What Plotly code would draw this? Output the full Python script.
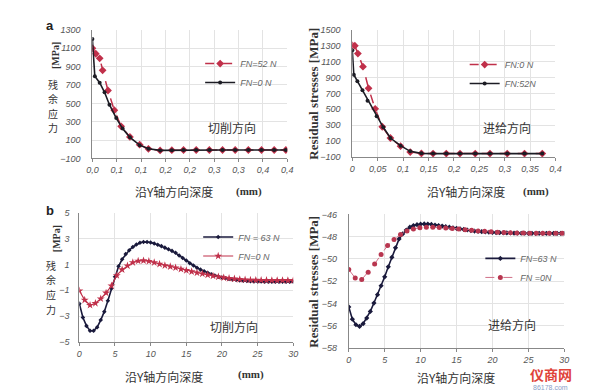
import plotly.graph_objects as go

W, H = 592, 390

# ---------------- data ----------------
# panel a (切削方向, depth mm)
a_x_fn0 = [0, 0.005, 0.015, 0.025, 0.035, 0.049, 0.062, 0.077, 0.097, 0.115, 0.139, 0.163,
           0.187, 0.213, 0.24, 0.267, 0.293, 0.32, 0.347, 0.373, 0.397]
a_y_fn0 = [1200, 795, 725, 620, 485, 340, 225, 130, 45, 5, -12, -10, -8, -8, -8, -8, -8, -8, -8, -8, -8]
a_x_fn52 = [0, 0.007, 0.015, 0.021, 0.032, 0.045, 0.059, 0.077, 0.097, 0.115, 0.139, 0.163,
            0.187, 0.213, 0.24, 0.267, 0.293, 0.32, 0.347, 0.373, 0.397]
a_y_fn52 = [1100, 1040, 990, 860, 640, 425, 250, 135, 50, 5, -12, -10, -8, -8, -8, -8, -8, -8, -8, -8, -8]
a_tickvals = [0, 0.05, 0.1, 0.15, 0.2, 0.25, 0.3, 0.35, 0.4]
a_ticktext = ["0,0", "0,1", "0,1", "0,2", "0,2", "0,3", "0,3", "0,4", "0,4"]
a_yticks = [-100, 100, 300, 500, 700, 900, 1100, 1300]

# panel b (进给方向, depth mm)
b_x_fn0 = [0, 0.005, 0.011, 0.021, 0.032, 0.045, 0.059, 0.075, 0.095, 0.114, 0.136, 0.159,
           0.185, 0.212, 0.242, 0.271, 0.305, 0.339, 0.374]
b_y_fn0 = [1304, 1300, 1201, 1037, 764, 506, 280, 138, 35, -39, -56, -58, -58, -58, -58, -58, -58, -58, -58]
b_x_fn52 = [0, 0.003, 0.010, 0.020, 0.030, 0.048, 0.061, 0.075, 0.095, 0.114, 0.136, 0.159,
            0.185, 0.212, 0.242, 0.271, 0.305, 0.339, 0.374]
b_y_fn52 = [1242, 935, 853, 740, 608, 412, 273, 138, 42, -30, -55, -58, -58, -58, -58, -58, -58, -58, -58]
b_tickvals = [0, 0.05, 0.1, 0.15, 0.2, 0.25, 0.3, 0.35, 0.4]
b_ticktext = ["0", "0,05", "0,1", "0,15", "0,2", "0,25", "0,3", "0,35", "0,4"]
b_yticks = [-100, 100, 300, 500, 700, 900, 1100, 1300, 1500]

# panel c (切削方向, depth mm)
c_x_fn63 = [i * 0.5 for i in range(61)]
c_y_fn63 = [-2.03, -3.1, -3.75, -4.12, -4.13, -3.85, -3.3, -2.65, -1.8, -0.85,
            0.05, 0.86, 1.4, 1.8, 2.1, 2.35, 2.55, 2.68, 2.74, 2.74,
            2.7, 2.62, 2.52, 2.42, 2.3, 2.18, 2.05, 1.9, 1.7, 1.5,
            1.3, 1.1, 0.92, 0.75, 0.6, 0.47, 0.35, 0.24, 0.14, 0.06,
            -0.01, -0.07, -0.12, -0.16, -0.2, -0.23, -0.26, -0.28, -0.3, -0.31,
            -0.32, -0.32, -0.33, -0.33, -0.33, -0.33, -0.33, -0.33, -0.33, -0.33, -0.33]
c_x_fn0 = [i * 0.75 for i in range(41)]
c_y_fn0 = [-1.03, -1.75, -2.15, -2.0, -1.65, -1.2, -0.65, 0.15, 0.6, 0.9,
           1.15, 1.27, 1.3, 1.25, 1.15, 1.03, 0.92, 0.84, 0.75, 0.64,
           0.54, 0.45, 0.36, 0.28, 0.2, 0.12, 0.05, -0.02, -0.07, -0.11,
           -0.15, -0.18, -0.2, -0.21, -0.22, -0.22, -0.23, -0.23, -0.23, -0.23, -0.23]
c_yticks = [-5, -3, -1, 1, 3, 5]

# panel d (进给方向)
d_x_fn63 = [i * 0.5 for i in range(61)]
d_y_fn63 = [-54.3, -55.4, -55.9, -56.05, -55.8, -55.3, -54.7, -53.95, -53.2, -52.4,
            -51.6, -50.7, -49.85, -49.0, -48.2, -47.75, -47.4, -47.15, -47.0, -46.92,
            -46.88, -46.85, -46.86, -46.9, -46.95, -47.0, -47.05, -47.1, -47.15, -47.2,
            -47.25, -47.3, -47.35, -47.4, -47.45, -47.5, -47.52, -47.55, -47.58, -47.6,
            -47.62, -47.63, -47.64, -47.65, -47.66, -47.67, -47.68, -47.68, -47.69, -47.69,
            -47.7, -47.7, -47.7, -47.7, -47.7, -47.7, -47.7, -47.7, -47.7, -47.7, -47.7]
d_x_fn0 = [i * 0.9 for i in range(34)]
d_y_fn0 = [-50.95, -51.7, -51.85, -51.2, -50.45, -49.6, -48.8, -48.25, -47.8, -47.48,
           -47.3, -47.2, -47.15, -47.15, -47.18, -47.22, -47.27, -47.32, -47.38, -47.43,
           -47.48, -47.52, -47.56, -47.6, -47.62, -47.64, -47.66, -47.67, -47.68, -47.69,
           -47.7, -47.7, -47.7, -47.7]
d_yticks = [-58, -56, -54, -52, -50, -48, -46]
cd_xticks = [0, 5, 10, 15, 20, 25, 30]

# ---------------- styling ----------------
RED = "#c0304a"
BLK = "#1c1c24"
NAVY = "#1a1a3c"
CJK = "Noto Sans CJK SC"
TICKFONT = dict(family="Liberation Sans", size=9, color="#555", style="italic")
LEGFONT = dict(family="Liberation Sans", size=9, color="#666", style="italic")


def px_x(p):
    return p / W


def px_y(p):
    return 1 - p / H


fig = go.Figure()

# panel a
fig.add_trace(go.Scatter(x=a_x_fn52, y=a_y_fn52, name="FN=52 N", mode="lines+markers",
                         line=dict(color=RED, width=1.5, dash="dash"),
                         marker=dict(symbol="diamond", size=6, color=RED),
                         xaxis="x", yaxis="y", legend="legend"))
fig.add_trace(go.Scatter(x=a_x_fn0, y=a_y_fn0, name="FN=0 N", mode="lines+markers",
                         line=dict(color=BLK, width=1.6),
                         marker=dict(symbol="circle", size=4, color=BLK),
                         xaxis="x", yaxis="y", legend="legend"))
# panel b
fig.add_trace(go.Scatter(x=b_x_fn0, y=b_y_fn0, name="FN:0 N", mode="lines+markers",
                         line=dict(color=RED, width=1.5, dash="dash"),
                         marker=dict(symbol="diamond", size=6, color=RED),
                         xaxis="x2", yaxis="y2", legend="legend2"))
fig.add_trace(go.Scatter(x=b_x_fn52, y=b_y_fn52, name="FN:52N", mode="lines+markers",
                         line=dict(color=BLK, width=1.6),
                         marker=dict(symbol="circle", size=4, color=BLK),
                         xaxis="x2", yaxis="y2", legend="legend2"))
# panel c
fig.add_trace(go.Scatter(x=c_x_fn63, y=c_y_fn63, name="FN = 63 N", mode="lines+markers",
                         line=dict(color=NAVY, width=1.6),
                         marker=dict(symbol="diamond", size=3.5, color=NAVY),
                         xaxis="x3", yaxis="y3", legend="legend3"))
fig.add_trace(go.Scatter(x=c_x_fn0, y=c_y_fn0, name="FN=0 N", mode="lines+markers",
                         line=dict(color=RED, width=1.2),
                         marker=dict(symbol="star", size=6, color=RED),
                         xaxis="x3", yaxis="y3", legend="legend3"))
# panel d
fig.add_trace(go.Scatter(x=d_x_fn63, y=d_y_fn63, name="FN=63 N", mode="lines+markers",
                         line=dict(color=NAVY, width=1.6),
                         marker=dict(symbol="diamond", size=4, color=NAVY),
                         xaxis="x4", yaxis="y4", legend="legend4"))
fig.add_trace(go.Scatter(x=d_x_fn0, y=d_y_fn0, name="FN =0N", mode="lines+markers",
                         line=dict(color="#d07088", width=1, dash="dash"),
                         marker=dict(symbol="circle", size=5, color="#b8364f"),
                         xaxis="x4", yaxis="y4", legend="legend4"))


def xaxis(domain, anchor, rng, tickvals, ticktext=None, grid=True):
    d = dict(domain=domain, anchor=anchor, range=rng, tickvals=tickvals,
             showline=True, linecolor="#888", linewidth=1, ticks="outside", ticklen=3,
             tickcolor="#888", tickfont=TICKFONT, showgrid=grid, gridcolor="#e3e3e3",
             zeroline=False, ticklabelstandoff=0)
    if ticktext is not None:
        d["ticktext"] = ticktext
    return d


def yaxis(domain, anchor, rng, tickvals, standoff=9):
    return dict(domain=domain, anchor=anchor, range=rng, tickvals=tickvals,
                showline=True, linecolor="#888", linewidth=1, ticks="",
                tickfont=TICKFONT, showgrid=True, gridcolor="#e3e3e3",
                zeroline=False, ticklabelstandoff=standoff)


fig.update_layout(
    width=W, height=H, margin=dict(l=0, r=0, t=0, b=0),
    paper_bgcolor="white", plot_bgcolor="white",
    xaxis=xaxis([px_x(80), px_x(279)], "y", [0, 0.4], a_tickvals, a_ticktext),
    yaxis=yaxis([px_y(149.3), px_y(17.3)], "x", [-100, 1300], a_yticks, standoff=9),
    xaxis2=xaxis([px_x(345.3), px_x(552.7)], "y2", [0, 0.4], b_tickvals, b_ticktext),
    yaxis2=yaxis([px_y(147.7), px_y(17.3)], "x2", [-100, 1500], b_yticks),
    xaxis3=xaxis([px_x(66.7), px_x(285)], "y3", [0, 30], cd_xticks),
    yaxis3=yaxis([px_y(337.7), px_y(205)], "x3", [-5, 5], c_yticks, standoff=7),
    xaxis4=xaxis([px_x(341.7), px_x(561.7)], "y4", [0, 30], cd_xticks),
    yaxis4=yaxis([px_y(344), px_y(206.7)], "x4", [-58, -46], d_yticks),
    legend=dict(x=px_x(190), y=px_y(37), xanchor="left", yanchor="top", bgcolor="rgba(0,0,0,0)",
                font=LEGFONT, tracegroupgap=0),
    legend2=dict(x=px_x(460), y=px_y(38), xanchor="left", yanchor="top", bgcolor="rgba(0,0,0,0)",
                 font=LEGFONT),
    legend3=dict(x=px_x(188), y=px_y(215), xanchor="left", yanchor="top", bgcolor="rgba(0,0,0,0)",
                 font=LEGFONT),
    legend4=dict(x=px_x(476), y=px_y(237), xanchor="left", yanchor="top", bgcolor="rgba(0,0,0,0)",
                 font=LEGFONT),
)

ann = []


def text(x, y, t, size=12, color="#333", family=CJK, angle=0, bold=False, xanchor="center"):
    ann.append(dict(x=px_x(x), y=px_y(y), xref="paper", yref="paper", text=t, showarrow=False,
                    textangle=angle, xanchor=xanchor, yanchor="middle", borderpad=0,
                    font=dict(family=family, size=size, color=color, weight=700 if bold else 400)))


# panel letters
text(37, 13, "a", size=13, color="#222", family="Liberation Sans", bold=True)
text(37, 203, "b", size=13, color="#222", family="Liberation Sans", bold=True)

# left y titles: upright characters, one text each, spaced beyond the CJK line box
for i, ch in enumerate("残余应力"):
    text(40, 73 + i * 15, ch, size=10)
    text(38, 259 + i * 15, ch, size=10)
text(43, 44, "[MPa]", size=10, color="#333", family="Liberation Serif", angle=-90, bold=True)
text(43, 232, "[MPa]", size=10, color="#333", family="Liberation Serif", angle=-90, bold=True)

# right y titles
text(306, 83, "Residual stresses [MPa]", size=13, color="#333", family="Liberation Serif",
     angle=-90, bold=True)
text(306, 276, "Residual stresses [MPa]", size=13, color="#333", family="Liberation Serif",
     angle=-90, bold=True)

# x titles
text(163, 183, "沿Y轴方向深度", size=12)
text(240, 183, "(mm)", size=11, family="Liberation Serif", bold=True)
text(461, 183, "沿Y轴方向深度", size=12)
text(533, 183, "(mm)", size=11, family="Liberation Serif", bold=True)
text(153, 373, "沿Y轴方向深度", size=12)
text(242, 371, "(mm)", size=11, family="Liberation Serif", bold=True)
text(451, 374, "沿Y轴方向深度", size=12)

# direction labels
text(222, 118, "切削方向", size=12)
text(503, 118, "进给方向", size=12)
text(225, 322, "切削方向", size=12)
text(508, 320, "进给方向", size=12)

# watermark
text(548, 370, "仪商网", size=14, color="#e0443a", bold=True)
text(548, 384.5, "86178.com", size=7, color="#8aa0c8", family="Liberation Sans")

fig.update_layout(annotations=ann)
fig.write_html("out.html")
